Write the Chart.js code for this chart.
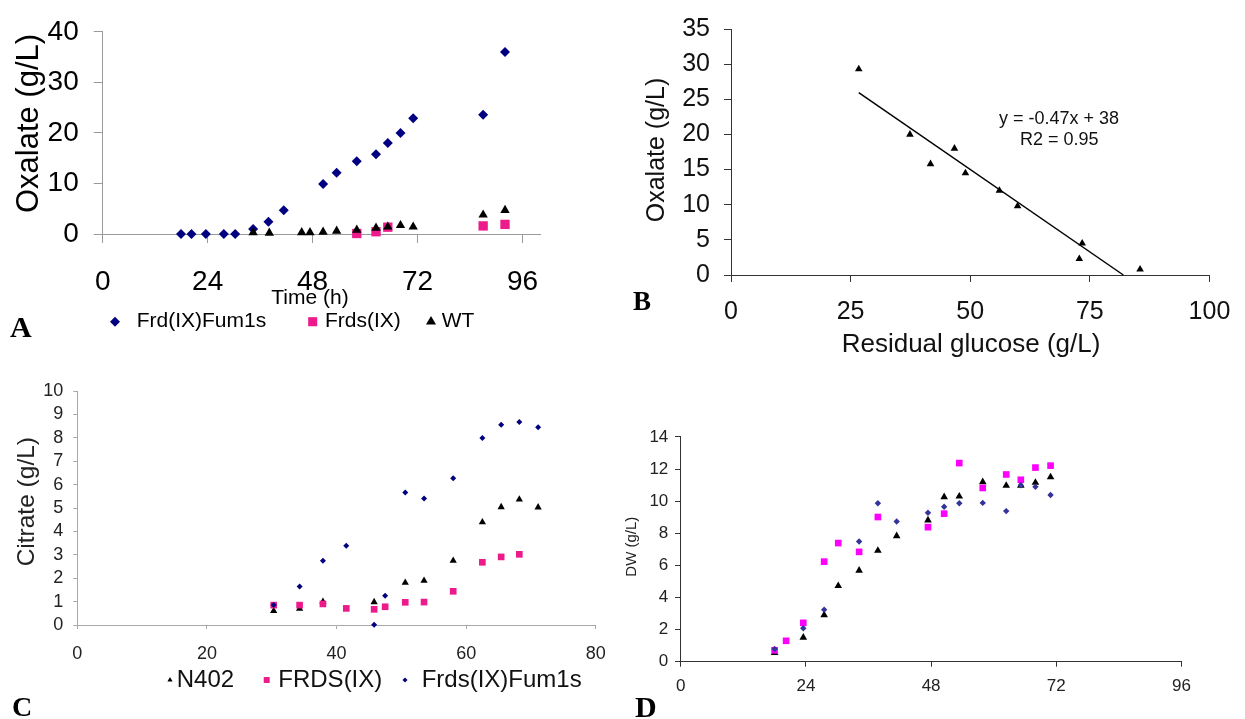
<!DOCTYPE html>
<html>
<head>
<meta charset="utf-8">
<title>Oxalate, citrate and dry weight</title>
<script src="https://cdn.jsdelivr.net/npm/chart.js@4.4.1/dist/chart.umd.min.js"></script>
<style>
  body { margin: 0; background: #fff; }
  #page { position: relative; width: 1245px; height: 719px; overflow: hidden; background: #fff; }
  canvas { position: absolute; }
</style>
</head>
<body>
<div id="page">
  <canvas id="panelA" width="620" height="360" style="left:0;top:0"></canvas>
  <canvas id="panelB" width="625" height="360" style="left:620px;top:0"></canvas>
  <canvas id="panelC" width="620" height="349" style="left:0;top:370px"></canvas>
  <canvas id="panelD" width="630" height="299" style="left:615px;top:420px"></canvas>
</div>
<script>
const FONT = "'Liberation Sans', Arial, sans-serif";
const SERIF = "'Liberation Serif', 'Times New Roman', serif";

// A - oxalate over time
const timeA_fum = [17.9, 20.3, 23.6, 27.7, 30.3, 34.4, 37.9, 41.4, 50.4, 53.5, 58.1, 62.5, 65.2, 68.1, 71.0, 87.0, 92.0];
const oxalateA_fum = [0, 0, 0, 0, 0, 1.0, 2.4, 4.7, 9.9, 12.1, 14.4, 15.8, 18.0, 20.0, 22.9, 23.6, 36.0];
const timeA_frds = [58.1, 62.5, 65.2, 87.0, 92.0];
const oxalateA_frds = [0.1, 0.45, 1.35, 1.6, 1.9];
const timeA_wt = [34.4, 38.1, 45.5, 47.4, 50.4, 53.5, 58.1, 62.5, 65.2, 68.1, 71.0, 87.0, 92.0];
const oxalateA_wt = [0.3, 0.2, 0.3, 0.3, 0.4, 0.6, 0.8, 1.2, 1.4, 1.7, 1.4, 3.8, 4.7];

// B - oxalate vs residual glucose
const glucoseB = [26.7, 37.4, 41.7, 46.7, 49.0, 56.1, 59.9, 72.8, 73.4, 85.5];
const oxalateB = [29.3, 20.0, 15.8, 18.0, 14.5, 12.0, 9.8, 2.3, 4.5, 0.8];

// C - citrate over time
const timeC_n402 = [30.3, 34.3, 37.9, 45.8, 50.6, 53.5, 58.0, 62.5, 65.4, 68.2, 71.1];
const citrateC_n402 = [0.6, 0.7, 1.0, 0.98, 1.81, 1.89, 2.75, 4.39, 5.04, 5.37, 5.03];
const timeC_frds = [30.3, 34.3, 37.9, 41.5, 45.8, 47.5, 50.6, 53.5, 58.0, 62.5, 65.4, 68.2];
const citrateC_frds = [0.85, 0.85, 0.9, 0.71, 0.67, 0.78, 0.97, 0.98, 1.44, 2.68, 2.91, 3.02];
const timeC_fum = [30.3, 34.3, 37.9, 41.5, 45.8, 47.5, 50.6, 53.5, 58.0, 62.5, 65.4, 68.2, 71.1];
const citrateC_fum = [0.85, 1.65, 2.75, 3.39, 0.01, 1.25, 5.66, 5.41, 6.27, 7.99, 8.56, 8.68, 8.45];

// D - dry weight over time
const timeD_wt = [18.0, 23.5, 27.5, 30.2, 34.2, 37.8, 41.4, 47.4, 50.5, 53.4, 57.9, 62.4, 65.2, 68.0, 70.9];
const dwD_wt = [0.55, 1.51, 2.91, 4.72, 5.68, 6.92, 7.83, 8.81, 10.26, 10.30, 11.19, 10.97, 10.97, 11.15, 11.50];
const timeD_frds = [18.0, 20.2, 23.5, 27.5, 30.2, 34.2, 37.8, 47.4, 50.5, 53.4, 57.9, 62.4, 65.2, 68.0, 70.9];
const dwD_frds = [0.71, 1.30, 2.42, 6.23, 7.39, 6.84, 9.01, 8.38, 9.22, 12.37, 10.82, 11.66, 11.33, 12.09, 12.21];
const timeD_fum = [18.0, 23.5, 27.5, 34.2, 37.8, 41.4, 47.4, 50.5, 53.4, 57.9, 62.4, 65.2, 68.0, 70.9];
const dwD_fum = [0.79, 2.08, 3.24, 7.49, 9.87, 8.73, 9.28, 9.65, 9.87, 9.89, 9.38, 10.99, 10.89, 10.38];

function pts(xs, ys) {
    return xs.map((x, i) => ({ x: x, y: ys[i] }));
}

function series(label, xs, ys, style, color, r, order) {
    return {
        label: label,
        data: pts(xs, ys),
        pointStyle: style,
        pointRadius: r,
        pointHoverRadius: r,
        pointBorderWidth: 0,
        backgroundColor: color,
        borderColor: color,
        showLine: false,
        clip: false,
        order: order
    };
}

// least squares line for panel B
function fit(xs, ys) {
    const n = xs.length;
    const mx = xs.reduce((a, b) => a + b, 0) / n;
    const my = ys.reduce((a, b) => a + b, 0) / n;
    let sxy = 0, sxx = 0;
    xs.forEach((x, i) => {
        sxy += (x - mx) * (ys[i] - my);
        sxx += (x - mx) * (x - mx);
    });
    const slope = sxy / sxx;
    return { slope: slope, intercept: my - slope * mx };
}

function axis(o) {
    return {
        type: 'linear',
        min: o.min,
        max: o.max,
        border: { color: o.line, width: 1 },
        grid: { drawOnChartArea: false, tickLength: o.tick, color: o.line },
        ticks: {
            stepSize: o.step,
            includeBounds: false,
            autoSkip: false,
            maxRotation: 0,
            padding: o.pad,
            color: o.text,
            font: { family: FONT, size: o.size }
        },
        afterFit: function(s) {
            if (o.horizontal) s.height = o.fit; else s.width = o.fit;
        }
    };
}

// free text: titles, panel letters, equation
const textPlugin = {
    id: 'panelText',
    afterDraw(chart, args, opts) {
        const ctx = chart.ctx;
        (opts.items || []).forEach(t => {
            ctx.save();
            ctx.font = t.font;
            ctx.fillStyle = t.color || '#000';
            ctx.textAlign = t.align || 'center';
            ctx.textBaseline = t.baseline || 'middle';
            ctx.translate(t.x, t.y);
            if (t.rotate) ctx.rotate(t.rotate);
            ctx.fillText(t.text, 0, 0);
            ctx.restore();
        });
    }
};

// one-row legend under the plot
const legendPlugin = {
    id: 'rowLegend',
    afterDraw(chart, args, opts) {
        if (!opts.items) return;
        const ctx = chart.ctx;
        opts.items.forEach(it => {
            const ds = chart.data.datasets[it.index];
            ctx.save();
            ctx.fillStyle = ds.backgroundColor;
            ctx.strokeStyle = ds.borderColor;
            Chart.helpers.drawPoint(ctx, { pointStyle: ds.pointStyle, radius: it.r, rotation: 0, borderWidth: 0 }, it.mx, opts.y);
            ctx.font = opts.font;
            ctx.fillStyle = opts.color;
            ctx.textAlign = 'left';
            ctx.textBaseline = 'middle';
            ctx.fillText(ds.label, it.tx, opts.y);
            ctx.restore();
        });
    }
};

function baseOptions(pad, scales, texts, legend) {
    return {
        responsive: false,
        animation: false,
        events: [],
        layout: { padding: pad },
        plugins: {
            legend: { display: false },
            tooltip: { enabled: false },
            panelText: { items: texts },
            rowLegend: legend || {}
        },
        scales: scales
    };
}

// ---- A ----
new Chart(document.getElementById('panelA'), {
    type: 'scatter',
    data: {
        datasets: [
            series('Frd(IX)Fum1s', timeA_fum, oxalateA_fum, 'rectRot', '#000080', 5, 2),
            series('Frds(IX)', timeA_frds, oxalateA_frds, 'rect', '#ec1a8a', 6.6, 1),
            series('WT', timeA_wt, oxalateA_wt, 'triangle', '#000000', 5.4, 0)
        ]
    },
    options: baseOptions(
        { left: 0, top: 26, right: 80, bottom: 0 },
        {
            x: axis({ horizontal: true, min: 0, max: 100, step: 24, line: '#9a9a9a', tick: 9, pad: 22, size: 28, text: '#000', fit: 126 }),
            y: axis({ min: 0, max: 40, step: 10, line: '#9a9a9a', tick: 9, pad: 15, size: 28, text: '#000', fit: 102.7 })
        },
        [
            { text: 'Oxalate (g/L)', x: 29, y: 123.5, rotate: -Math.PI / 2, font: '31px ' + FONT },
            { text: 'Time (h)', x: 310, y: 298, font: '21px ' + FONT },
            { text: 'A', x: 10, y: 337, align: 'left', baseline: 'alphabetic', font: 'bold 30px ' + SERIF }
        ],
        {
            y: 321.7, font: '21px ' + FONT, color: '#000',
            items: [
                { index: 0, mx: 115, r: 5, tx: 136.7 },
                { index: 1, mx: 312.7, r: 6.4, tx: 325 },
                { index: 2, mx: 431, r: 5.8, tx: 441.7 }
            ]
        }
    ),
    plugins: [textPlugin, legendPlugin]
});

// ---- B ----
const trendB = fit(glucoseB, oxalateB);
const trendFrom = Math.min(...glucoseB);
const trendTo = -trendB.intercept / trendB.slope;

new Chart(document.getElementById('panelB'), {
    type: 'scatter',
    data: {
        datasets: [
            series('Oxalate', glucoseB, oxalateB, 'triangle', '#000000', 4.4, 0),
            {
                label: 'Linear fit',
                data: [
                    { x: trendFrom, y: trendB.slope * trendFrom + trendB.intercept },
                    { x: trendTo, y: 0 }
                ],
                showLine: true,
                pointRadius: 0,
                borderColor: '#000',
                borderWidth: 1.5,
                clip: false,
                order: 1
            }
        ]
    },
    options: baseOptions(
        { left: 0, top: 23.3, right: 24.5, bottom: 0 },
        {
            x: axis({ horizontal: true, min: 0, max: 100, step: 25, line: '#333', tick: 7, pad: 14.7, size: 25, text: '#111', fit: 85 }),
            y: axis({ min: 0, max: 35, step: 5, line: '#333', tick: 7, pad: 14, size: 25, text: '#111', fit: 111 })
        },
        [
            { text: 'Oxalate (g/L)', x: 37, y: 150, rotate: -Math.PI / 2, font: '25px ' + FONT, color: '#111' },
            { text: 'Residual glucose (g/L)', x: 351, y: 345, font: '26px ' + FONT, color: '#111' },
            { text: 'y = -0.47x + 38', x: 439, y: 119.3, font: '18px ' + FONT, color: '#111' },
            { text: 'R2 = 0.95', x: 439.3, y: 140, font: '18px ' + FONT, color: '#111' },
            { text: 'B', x: 13, y: 310, align: 'left', baseline: 'alphabetic', font: 'bold 27px ' + SERIF }
        ]
    ),
    plugins: [textPlugin, legendPlugin]
});

// ---- C ----
new Chart(document.getElementById('panelC'), {
    type: 'scatter',
    data: {
        datasets: [
            series('N402', timeC_n402, citrateC_n402, 'triangle', '#000000', 4.2, 2),
            series('FRDS(IX)', timeC_frds, citrateC_frds, 'rect', '#ec1a8a', 4.7, 1),
            series('Frds(IX)Fum1s', timeC_fum, citrateC_fum, 'rectRot', '#000080', 3, 0)
        ]
    },
    options: baseOptions(
        { left: 0, top: 21, right: 17.3, bottom: 0 },
        {
            x: axis({ horizontal: true, min: 0, max: 80, step: 20, line: '#a8a8a8', tick: 4, pad: 14.2, size: 18, text: '#222', fit: 94 }),
            y: axis({ min: 0, max: 10, step: 1, line: '#a8a8a8', tick: 4, pad: 10, size: 18, text: '#222', fit: 77.3 })
        },
        [
            { text: 'Citrate (g/L)', x: 27.5, y: 131.7, rotate: -Math.PI / 2, font: '24.5px ' + FONT, color: '#222' },
            { text: 'C', x: 12, y: 346, align: 'left', baseline: 'alphabetic', font: 'bold 28px ' + SERIF }
        ],
        {
            y: 310, font: '24px ' + FONT, color: '#111',
            items: [
                { index: 0, mx: 170, r: 3, tx: 176.7 },
                { index: 1, mx: 266.7, r: 4.2, tx: 278.3 },
                { index: 2, mx: 405, r: 2.5, tx: 421.7 }
            ]
        }
    ),
    plugins: [textPlugin, legendPlugin]
});

// ---- D ----
new Chart(document.getElementById('panelD'), {
    type: 'scatter',
    data: {
        datasets: [
            series('WT', timeD_wt, dwD_wt, 'triangle', '#000000', 4.4, 2),
            series('Frds(IX)', timeD_frds, dwD_frds, 'rect', '#ff00ff', 4.7, 1),
            series('Frd(IX)Fum1s', timeD_fum, dwD_fum, 'rectRot', '#333399', 3.2, 0)
        ]
    },
    options: baseOptions(
        { left: 0, top: 12.3, right: 63.5, bottom: 0 },
        {
            x: axis({ horizontal: true, min: 0, max: 96, step: 24, line: '#333', tick: 5, pad: 9, size: 17, text: '#222', fit: 57.3 }),
            y: axis({ min: 0, max: 14, step: 2, line: '#333', tick: 5.7, pad: 6.7, size: 17, text: '#222', fit: 65.7 })
        },
        [
            { text: 'DW (g/L)', x: 17, y: 126.7, rotate: -Math.PI / 2, font: '15px ' + FONT, color: '#222' },
            { text: 'D', x: 20, y: 297, align: 'left', baseline: 'alphabetic', font: 'bold 30px ' + SERIF }
        ]
    ),
    plugins: [textPlugin, legendPlugin]
});
</script>
</body>
</html>
